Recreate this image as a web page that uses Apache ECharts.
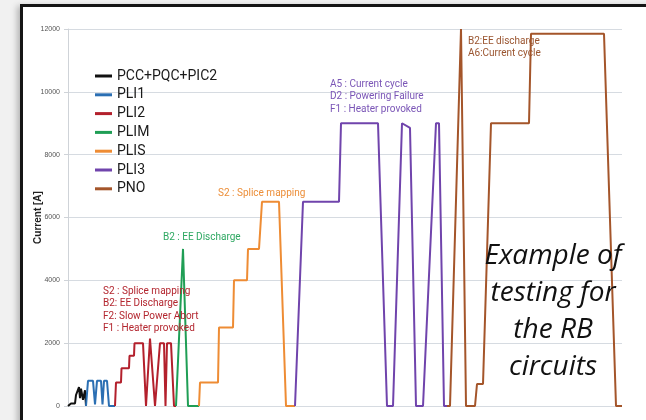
<!DOCTYPE html>
<html>
<head>
<meta charset="utf-8">
<script src="https://cdn.jsdelivr.net/npm/echarts@6/dist/echarts.min.js"></script>
<style>
  html, body { margin: 0; padding: 0; background: #f1f1f1; overflow: hidden; }
  #frame {
    position: absolute; left: 20px; top: 4px; width: 640px; height: 430px;
    border: 3px solid #151515; background: #fff;
    box-shadow: -3px 2px 6px rgba(0,0,0,0.25);
  }
  #chart { position: absolute; left: 0; top: 0; width: 646px; height: 420px; }
</style>
</head>
<body>
<div id="frame"></div>
<div id="chart"></div>
<script>
// Test sequence for the RB circuits, current [A] vs. time (arbitrary units)
const seriesNames = ['PCC+PQC+PIC2', 'PLI1', 'PLI2', 'PLIM', 'PLIS', 'PLI3', 'PNO'];
const seriesColors = ['#111111', '#2b6fb3', '#b3202c', '#1f9e55', '#ee8c34', '#7044ac', '#a4552a'];

const pcc = [[0,0],[3,80],[7,80],[8,350],[10,350],[11,600],[12,250],[13,550],[15,200],[17,500],[18,0]];
const pli1 = [[18,0],[20,800],[25,800],[27,50],[28,50],[29,800],[33,800],[34.5,50],[35.5,50],[36,800],[39,800],[41,0],[47,0]];
const pli2 = [[47,0],[48,750],[53,750],[53.5,1200],[61,1200],[61.5,1600],[66,1600],[66.5,2000],[75,2000],[78,0],[80,0],
  [82,2150],[87,0],[89,0],[92,2000],[96,2000],[97.5,0],[98.5,0],[99,2000],[103,2000],[106,0],[108,0]];
const plim = [[108,0],[110,0],[115,5000],[120,0],[131,0]];
const plis = [[131,0],[132,750],[150,750],[151,2500],[165,2500],[166,4000],[179,4000],[180,5000],[191,5000],
  [194,6500],[211,6500],[218,0],[227,0]];
const pli3 = [[227,0],[235,6500],[271,6500],[273,9000],[310,9000],[319,0],[325,0],[334,9000],[336,9000],[342,8850],
  [348,0],[355,0],[368,9000],[371,9000],[376,0],[379,0]];
const pno = [[379,0],[382,0],[393,12000],[398,0],[407,0],[409,700],[415,700],[423,9000],[461,9000],[463,11850],
  [536,11850],[548,0],[554,0]];
const allData = [pcc, pli1, pli2, plim, plis, pli3, pno];

const yTicks = [0, 2000, 4000, 6000, 8000, 10000, 12000];

const notes = [
  { x: 103, y: 285, color: '#b3262f', lines: ['S2 : Splice mapping', 'B2: EE Discharge', 'F2: Slow Power Abort', 'F1 : Heater provoked'] },
  { x: 163, y: 231, color: '#2ea862', lines: ['B2 : EE Discharge'] },
  { x: 218, y: 187, color: '#ec8e38', lines: ['S2 : Splice mapping'] },
  { x: 330, y: 78, color: '#7a55b6', lines: ['A5 : Current cycle', 'D2 : Powering Failure', 'F1 : Heater provoked'] },
  { x: 468, y: 35, color: '#9a5530', lines: ['B2:EE discharge', 'A6:Current cycle'] }
];

const chart = echarts.init(document.getElementById('chart'));

const noteFont = 'Roboto, "Liberation Sans", sans-serif';

chart.setOption({
  backgroundColor: 'transparent',
  animation: false,
  grid: { left: 68, right: 24, top: 29, bottom: 14 },
  legend: {
    orient: 'vertical',
    left: 90, top: 63,
    padding: 5,
    icon: 'rect',
    itemWidth: 17, itemHeight: 3,
    itemGap: 2.8,
    data: seriesNames,
    textStyle: { fontFamily: noteFont, fontSize: 14, color: '#1a1a1a', lineHeight: 16 }
  },
  xAxis: {
    type: 'value', min: 0, max: 554,
    show: false
  },
  yAxis: {
    type: 'value', min: 0, max: 12000, interval: 2000,
    name: 'Current [A]',
    nameLocation: 'middle',
    nameGap: 25,
    nameMoveOverlap: false,
    nameTextStyle: { fontFamily: '"Liberation Sans", sans-serif', fontSize: 10, fontWeight: 'bold', color: '#222' },
    axisLine: { show: true, lineStyle: { color: '#cfd3d8' } },
    axisTick: { show: true, length: 4, lineStyle: { color: '#cfd3d8' } },
    axisLabel: {
      fontSize: 7, color: '#555', margin: 8,
      formatter: v => yTicks.includes(v) ? String(v) : ''
    },
    splitLine: { lineStyle: { color: '#d6dbe1', width: 1 } }
  },
  series: allData.map((d, i) => ({
    name: seriesNames[i],
    type: 'line',
    data: d,
    showSymbol: false,
    symbol: 'none',
    color: seriesColors[i],
    lineStyle: { width: 2, color: seriesColors[i] },
    z: 2 + i
  })),
  graphic: notes.map(n => ({
    type: 'text',
    left: n.x, top: n.y,
    z: 20,
    style: {
      text: n.lines.join('\n'),
      fill: n.color,
      font: '10px ' + noteFont,
      lineHeight: 12.4
    }
  })).concat([{
    type: 'text',
    x: 553, y: 238,
    z: 30,
    style: {
      text: 'Example of\ntesting for\nthe RB\ncircuits',
      fill: '#111',
      font: 'italic 28px "Open Sans", sans-serif',
      lineHeight: 37,
      align: 'center',
      verticalAlign: 'top'
    }
  }])
});
</script>
</body>
</html>
